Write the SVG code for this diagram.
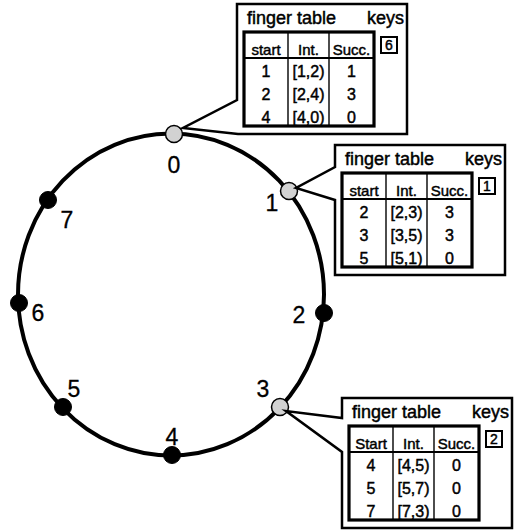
<svg xmlns="http://www.w3.org/2000/svg" width="520" height="530" viewBox="0 0 520 530">
<defs>
<style>
text{font-family:"Liberation Sans",Arial,sans-serif;fill:#000;stroke:#000;stroke-width:0.45}
.lbl{font-size:23px;text-anchor:middle;stroke-width:0.3}
.ttl{font-size:18px}
.th{font-size:15px;text-anchor:middle}
.td{font-size:16px;text-anchor:middle}
.kd{font-size:14px;text-anchor:middle}
.ring{fill:none;stroke:#000;stroke-width:4}
.dark{fill:#000;stroke:#000;stroke-width:1}
.light{fill:#d2d2d2;stroke:#000;stroke-width:1.5}
.bal{fill:#fff;stroke:#000;stroke-width:2.5;stroke-linejoin:miter}
.tbl{fill:none;stroke:#000;stroke-width:3.2}
.hs{stroke:#000;stroke-width:2.2}
.cs{stroke:#000;stroke-width:1.4}
.kb{fill:#fff;stroke:#000;stroke-width:2}
</style>
</defs>
<g id="connectors">
<ellipse class="ring" cx="171" cy="294.5" rx="153" ry="161"/>
</g>
<g id="node0"><circle class="light" cx="174" cy="134" r="8.5"/><text class="lbl" x="174" y="173">0</text></g>
<g id="node1"><circle class="light" cx="289" cy="191" r="8.5"/><text class="lbl" x="272" y="211">1</text></g>
<g id="node2"><circle class="dark" cx="324" cy="313" r="8.5"/><text class="lbl" x="299" y="323">2</text></g>
<g id="node3"><circle class="light" cx="280" cy="407" r="8.5"/><text class="lbl" x="263" y="397">3</text></g>
<g id="node4"><circle class="dark" cx="172" cy="455" r="8.5"/><text class="lbl" x="172" y="445">4</text></g>
<g id="node5"><circle class="dark" cx="63" cy="407" r="8.5"/><text class="lbl" x="74" y="397">5</text></g>
<g id="node6"><circle class="dark" cx="19" cy="303" r="8.5"/><text class="lbl" x="38" y="321">6</text></g>
<g id="node7"><circle class="dark" cx="48" cy="200" r="8.5"/><text class="lbl" x="67" y="228">7</text></g>

<g id="table0">
<path class="bal" d="M237,4 H407 V134 H238 L183,128 L237,100 Z"/>
<text class="ttl" x="247" y="24">finger table</text>
<text class="ttl" x="404" y="24" text-anchor="end">keys</text>
<line class="hs" x1="244" y1="58" x2="374" y2="58"/>
<line class="cs" x1="288" y1="32" x2="288" y2="126"/>
<line class="cs" x1="329" y1="32" x2="329" y2="126"/>
<text class="th" x="266" y="55">start</text>
<text class="th" x="308.5" y="55">Int.</text>
<text class="th" x="351.5" y="55">Succ.</text>
<text class="td" x="266" y="77">1</text><text class="td" x="308.5" y="77">[1,2)</text><text class="td" x="351.5" y="77">1</text>
<text class="td" x="266" y="100">2</text><text class="td" x="308.5" y="100">[2,4)</text><text class="td" x="351.5" y="100">3</text>
<text class="td" x="266" y="123">4</text><text class="td" x="308.5" y="123">[4,0)</text><text class="td" x="351.5" y="123">0</text>
<rect class="tbl" x="244" y="32" width="130" height="94"/>
<rect class="kb" x="381" y="37" width="16" height="16"/>
<text class="kd" x="389" y="50">6</text>
</g>

<g id="table1">
<path class="bal" d="M335,145 H505 V275 H335 V200 L296,188 L335,167 Z"/>
<text class="ttl" x="345" y="165">finger table</text>
<text class="ttl" x="502" y="165" text-anchor="end">keys</text>
<line class="hs" x1="342" y1="199" x2="472" y2="199"/>
<line class="cs" x1="386" y1="173" x2="386" y2="267"/>
<line class="cs" x1="427" y1="173" x2="427" y2="267"/>
<text class="th" x="364" y="196">start</text>
<text class="th" x="406.5" y="196">Int.</text>
<text class="th" x="449.5" y="196">Succ.</text>
<text class="td" x="364" y="218">2</text><text class="td" x="406.5" y="218">[2,3)</text><text class="td" x="449.5" y="218">3</text>
<text class="td" x="364" y="241">3</text><text class="td" x="406.5" y="241">[3,5)</text><text class="td" x="449.5" y="241">3</text>
<text class="td" x="364" y="264">5</text><text class="td" x="406.5" y="264">[5,1)</text><text class="td" x="449.5" y="264">0</text>
<rect class="tbl" x="342" y="173" width="130" height="94"/>
<rect class="kb" x="479" y="178" width="16" height="16"/>
<text class="kd" x="487" y="191">1</text>
</g>

<g id="table3">
<path class="bal" d="M342,398 H512 V528 H342 V452 L286,411 L342,418 Z"/>
<text class="ttl" x="352" y="418">finger table</text>
<text class="ttl" x="509" y="418" text-anchor="end">keys</text>
<line class="hs" x1="349" y1="452" x2="479" y2="452"/>
<line class="cs" x1="393" y1="426" x2="393" y2="520"/>
<line class="cs" x1="434" y1="426" x2="434" y2="520"/>
<text class="th" x="371" y="449">Start</text>
<text class="th" x="413.5" y="449">Int.</text>
<text class="th" x="456.5" y="449">Succ.</text>
<text class="td" x="371" y="471">4</text><text class="td" x="413.5" y="471">[4,5)</text><text class="td" x="456.5" y="471">0</text>
<text class="td" x="371" y="494">5</text><text class="td" x="413.5" y="494">[5,7)</text><text class="td" x="456.5" y="494">0</text>
<text class="td" x="371" y="517">7</text><text class="td" x="413.5" y="517">[7,3)</text><text class="td" x="456.5" y="517">0</text>
<rect class="tbl" x="349" y="426" width="130" height="94"/>
<rect class="kb" x="486" y="431" width="16" height="16"/>
<text class="kd" x="494" y="444">2</text>
</g>
</svg>
